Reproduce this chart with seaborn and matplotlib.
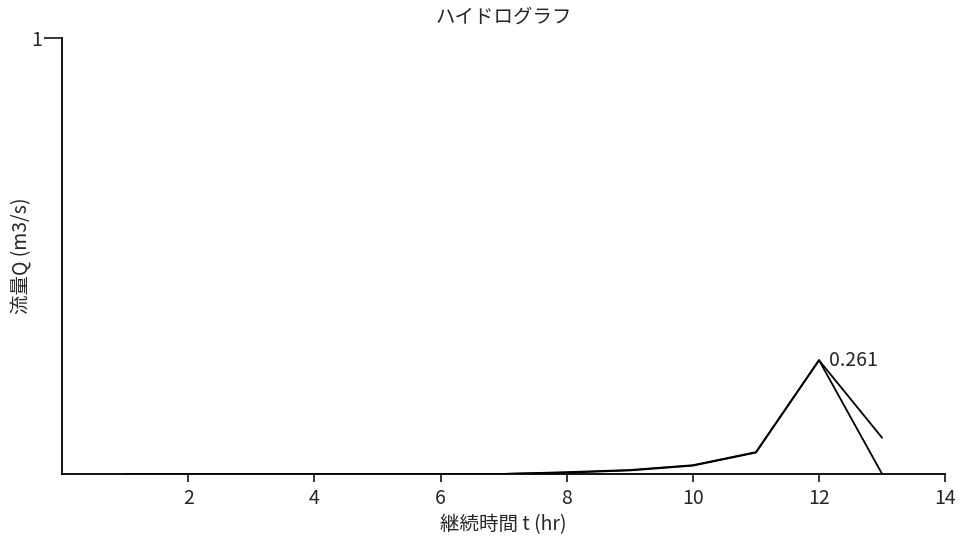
import matplotlib
matplotlib.use("Agg")
import matplotlib.pyplot as plt
import seaborn as sns
import pandas as pd

hours = [1, 2, 3, 4, 5, 6, 7, 8, 9, 10, 11, 12, 13]
inflow = [0, 0, 0, 0, 0, 0, 0, 0.004, 0.009, 0.02, 0.05, 0.261, 0.0]
outflow = [0, 0, 0, 0, 0, 0, 0, 0.003, 0.008, 0.019, 0.049, 0.261, 0.083]
peak_label = "0.261"
xticks = [2, 4, 6, 8, 10, 12, 14]
yticks = [1]

sns.set_theme(style="white")
plt.rcParams['font.family'] = ['Noto Sans CJK JP', 'DejaVu Sans']

df = pd.DataFrame({
    "t": hours + hours,
    "Q": inflow + outflow,
    "series": ["in"] * len(hours) + ["out"] * len(hours),
})

fig = plt.figure(figsize=(9.62, 5.46), dpi=100)
ax = fig.add_axes([0.0645, 0.132, 0.918, 0.798])
sns.lineplot(data=df, x="t", y="Q", hue="series", palette=["black", "black"],
             legend=False, linewidth=1.3, ax=ax, estimator=None, sort=False)

ax.set_xlim(0, 14)
ax.set_ylim(0, 1)
ax.set_xticks(xticks)
ax.set_xticklabels([str(v) for v in xticks], fontsize=14)
ax.set_yticks(yticks)
ax.set_yticklabels([str(v) for v in yticks], fontsize=14)
ax.tick_params(axis="x", length=6, width=1.3, direction="out", pad=4, bottom=True)
ax.tick_params(axis="y", length=13, width=1.3, direction="out", pad=1, left=True)
for s in ["top", "right"]:
    ax.spines[s].set_visible(False)
for s in ["left", "bottom"]:
    ax.spines[s].set_color("black")
    ax.spines[s].set_linewidth(1.3)

pi = inflow.index(max(inflow))
ax.annotate(peak_label, (hours[pi], inflow[pi]), xytext=(7, 0),
            textcoords="offset points", fontsize=14, va="center", ha="left")

ax.set_title("ハイドログラフ", fontsize=14, pad=11)
ax.set_xlabel("継続時間 t (hr)", fontsize=14, labelpad=4)
ax.set_ylabel("流量Q (m3/s)", fontsize=14)
ax.yaxis.set_label_coords(-0.034, 0.5)

fig.savefig("out.png", dpi=100)
